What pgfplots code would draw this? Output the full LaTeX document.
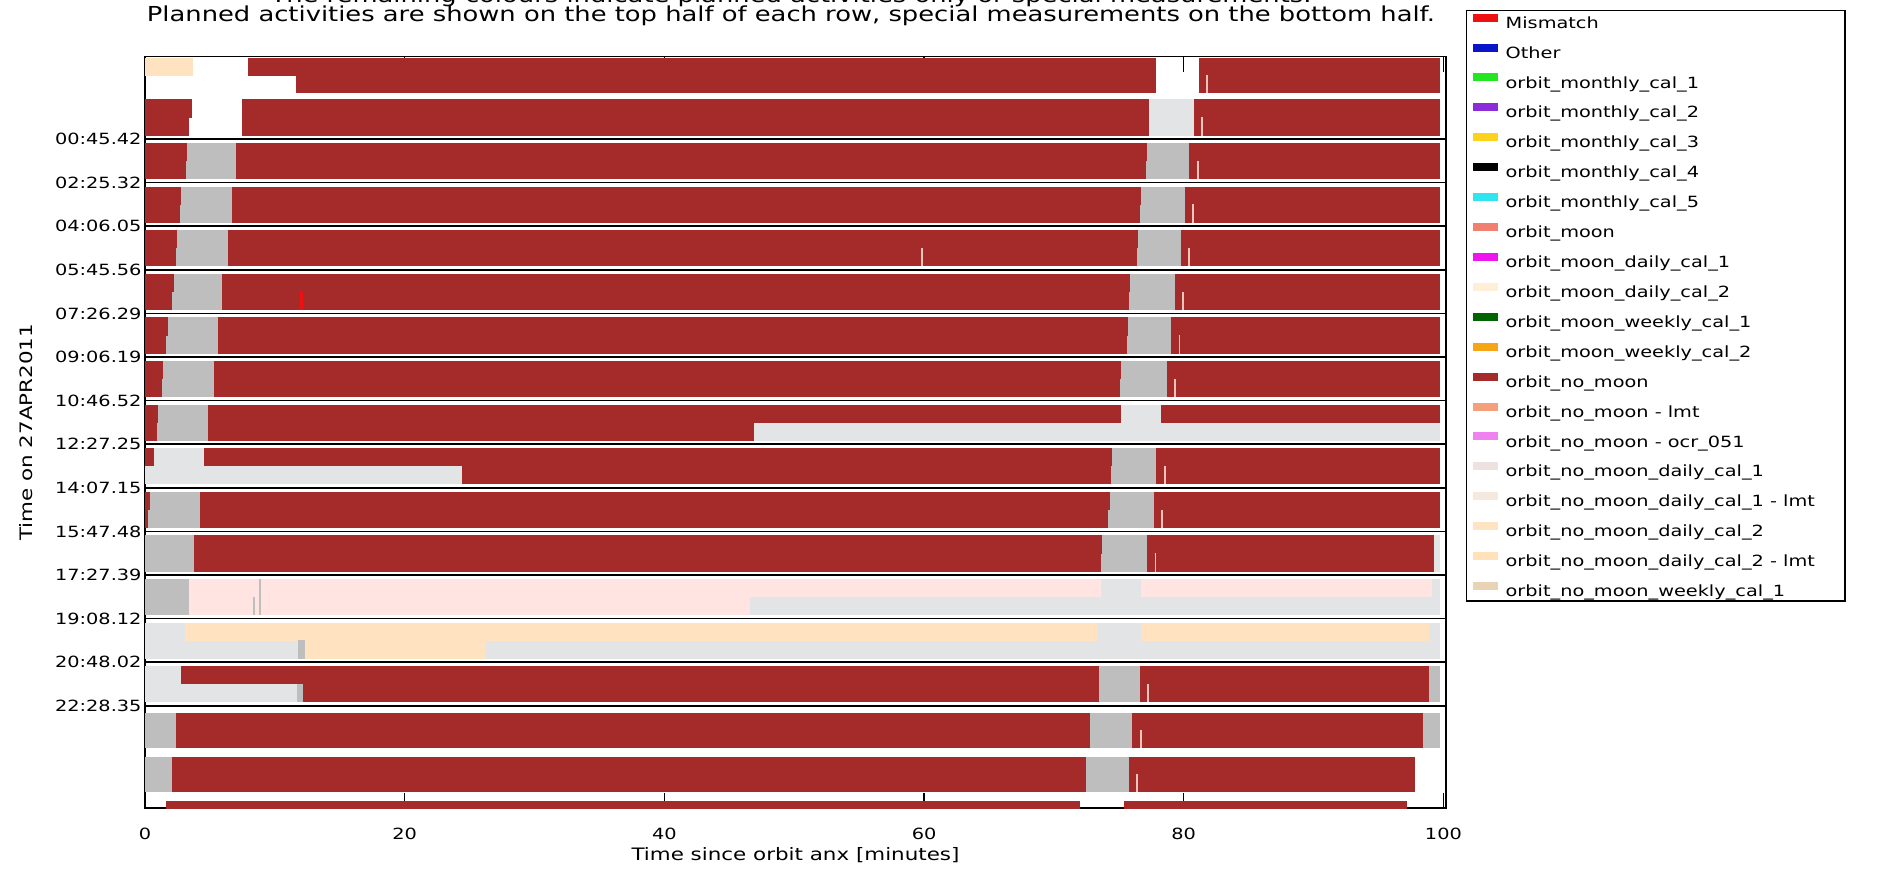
\documentclass[border=0pt]{standalone}
\usepackage{fontspec}
\setmainfont{DejaVu Sans}[FakeStretch=1.25]
\usepackage{pgfplots}
\pgfplotsset{compat=1.18}

% colours of the legend
\definecolor{cMis}{HTML}{EE1111}
\definecolor{cOther}{HTML}{0A14C8}
\definecolor{cMcA}{HTML}{22E622}
\definecolor{cMcB}{HTML}{8C2CD8}
\definecolor{cMcC}{HTML}{FCD21A}
\definecolor{cMcD}{HTML}{000000}
\definecolor{cMcE}{HTML}{30E4F0}
\definecolor{cMoon}{HTML}{F08070}
\definecolor{cMdA}{HTML}{EE14EE}
\definecolor{cMdB}{HTML}{FFEFD8}
\definecolor{cMwA}{HTML}{006400}
\definecolor{cMwB}{HTML}{F5A516}
\definecolor{cNoMoon}{HTML}{A52A2A}
\definecolor{cLmt}{HTML}{F4A07A}
\definecolor{cOcr}{HTML}{EE82EE}
\definecolor{cNdA}{HTML}{EEE2E0}
\definecolor{cNdAl}{HTML}{F5E8DC}
\definecolor{cNdB}{HTML}{FFE4C4}
\definecolor{cNdBl}{HTML}{FFE2BA}
\definecolor{cNwA}{HTML}{E8D4B4}
% colours seen in the rows
\definecolor{cGap}{HTML}{BEBEBE}
\definecolor{cLight}{HTML}{E2E4E5}
\definecolor{cPink}{HTML}{FFE4E1}
\definecolor{cPeach}{HTML}{FFE2BF}
\definecolor{cPale}{HTML}{F2C4BC}

\newcommand\titlefont{\fontsize{20.7}{24}\selectfont}
\newcommand\legfont{\fontsize{15.5}{18}\selectfont}
\newcommand\tickfont{\fontsize{15.5}{18}\selectfont}
\newcommand\labfont{\fontsize{17.2}{20}\selectfont}
\newcommand\ls{\rule[-4bp]{0pt}{15bp}}

\begin{document}
\begin{tikzpicture}
\path[use as bounding box] (0,0) rectangle (1883bp,-871bp);
\begin{axis}[
  at={(145bp,-808bp)}, anchor=south west,
  scale only axis, width=1301bp, height=751.3bp,
  xmin=0, xmax=100.2, ymin=-1.888, ymax=15.344, y dir=reverse,
  xtick={0,20,40,60,80,100},
  ytick={0,1,...,13},
  yticklabels={00:45.42,02:25.32,04:06.05,05:45.56,07:26.29,09:06.19,10:46.52,12:27.25,14:07.15,15:47.48,17:27.39,19:08.12,20:48.02,22:28.35},
  tick align=inside, major tick length=15bp,
  ymajorgrids, grid style={black, line width=1.6bp},
  axis line style={line width=1.3bp},
  every tick/.style={black, line width=1.3bp},
  /pgf/number format/assume math mode=true,
  tick label style={font=\tickfont},
  xticklabel style={anchor=base, yshift=-31bp},
  xlabel={Time since orbit anx [minutes]},
  xlabel style={font=\labfont, at={(axis description cs:0.5,-0.0705)}, anchor=base},
  ylabel={Time on 27APR2011},
  ylabel style={font=\labfont, at={(axis description cs:-0.0861,0.5)}, anchor=base},
  title={Planned activities are shown on the top half of each row, special measurements on the bottom half.},
  title style={font=\titlefont, at={(axis description cs:0.4965,1.0395)}, anchor=base},
  extra description/.code={
    \node[font=\titlefont, anchor=base] at (0.4965,1.0722)
      {The remaining colours indicate planned activities only or special measurements.};
  },
  unbounded coords=jump,
  every axis plot/.append style={line width=18.3bp, forget plot},
  sw/.style={legend image code/.code={\fill[#1, draw=none, line width=0pt] (0bp,1.5bp) rectangle (25bp,9.5bp);}},
  legend cell align=left,
  legend style={at={(axis description cs:1.0154,1.0622)}, anchor=north west,
    draw=black, line width=1.3bp, fill=white, font=\legfont,
    inner xsep=6bp, inner ysep=3bp, row sep=13.8bp, column sep=8bp,
    nodes={inner sep=0pt}},
]
% light grey
\addplot[cLight] coordinates {
(77.3,-0.70) (80.8,-0.70) (nan,nan) (77.3,-0.29) (80.8,-0.29) (nan,nan)
(75.2,6.30) (78.25,6.30) (nan,nan) (46.9,6.71) (99.75,6.71) (nan,nan)
(0.7,7.30) (4.55,7.30) (nan,nan) (0,7.71) (24.4,7.71) (nan,nan)
(99.3,9.30) (99.75,9.30) (nan,nan) (99.3,9.71) (99.75,9.71) (nan,nan)
(73.6,10.30) (76.7,10.30) (nan,nan) (99.1,10.30) (99.75,10.30) (nan,nan) (46.6,10.71) (99.75,10.71) (nan,nan)
(0,11.30) (3.1,11.30) (nan,nan) (73.3,11.30) (76.7,11.30) (nan,nan) (98.9,11.30) (99.75,11.30) (nan,nan)
(0,11.71) (11.8,11.71) (nan,nan) (26.3,11.71) (99.75,11.71) (nan,nan)
(0,12.30) (2.75,12.30) (nan,nan) (0,12.71) (11.7,12.71)
};
% pink
\addplot[cPink] coordinates {
(3.4,10.30) (73.6,10.30) (nan,nan) (76.7,10.30) (99.1,10.30) (nan,nan) (3.4,10.71) (46.6,10.71)
};
% peach
\addplot[cPeach] coordinates {
(0,-1.655) (3.7,-1.655) (nan,nan)
(3.1,11.30) (73.3,11.30) (nan,nan) (76.7,11.30) (98.9,11.30) (nan,nan) (12.3,11.71) (26.3,11.71)
};
% grey
\addplot[cGap] coordinates {
(3.25,0.30) (7.0,0.30) (nan,nan) (77.2,0.30) (80.4,0.30) (nan,nan) (3.15,0.71) (7.0,0.71) (nan,nan) (77.1,0.71) (80.4,0.71) (nan,nan)
(2.8,1.30) (6.7,1.30) (nan,nan) (76.7,1.30) (80.1,1.30) (nan,nan) (2.7,1.71) (6.7,1.71) (nan,nan) (76.6,1.71) (80.1,1.71) (nan,nan)
(2.5,2.30) (6.4,2.30) (nan,nan) (76.5,2.30) (79.8,2.30) (nan,nan) (2.4,2.71) (6.4,2.71) (nan,nan) (76.4,2.71) (79.8,2.71) (nan,nan)
(2.2,3.30) (5.9,3.30) (nan,nan) (75.9,3.30) (79.35,3.30) (nan,nan) (2.05,3.71) (5.9,3.71) (nan,nan) (75.8,3.71) (79.35,3.71) (nan,nan)
(1.75,4.30) (5.6,4.30) (nan,nan) (75.7,4.30) (79.0,4.30) (nan,nan) (1.6,4.71) (5.6,4.71) (nan,nan) (75.6,4.71) (79.0,4.71) (nan,nan)
(1.4,5.30) (5.3,5.30) (nan,nan) (75.2,5.30) (78.7,5.30) (nan,nan) (1.3,5.71) (5.3,5.71) (nan,nan) (75.1,5.71) (78.7,5.71) (nan,nan)
(0.98,6.30) (4.85,6.30) (nan,nan) (0.9,6.71) (4.85,6.71) (nan,nan)
(74.5,7.30) (77.9,7.30) (nan,nan) (74.4,7.71) (77.9,7.71) (nan,nan)
(0.4,8.30) (4.25,8.30) (nan,nan) (74.3,8.30) (77.7,8.30) (nan,nan) (0.25,8.71) (4.25,8.71) (nan,nan) (74.2,8.71) (77.7,8.71) (nan,nan)
(0,9.30) (3.8,9.30) (nan,nan) (73.7,9.30) (77.2,9.30) (nan,nan) (0,9.71) (3.8,9.71) (nan,nan) (73.6,9.71) (77.2,9.71) (nan,nan)
(0,10.30) (3.4,10.30) (nan,nan) (8.75,10.30) (8.9,10.30) (nan,nan) (0,10.71) (3.4,10.71) (nan,nan) (8.35,10.71) (8.5,10.71) (nan,nan) (8.75,10.71) (8.9,10.71) (nan,nan)
(11.8,11.71) (12.3,11.71) (nan,nan)
(73.5,12.30) (76.6,12.30) (nan,nan) (98.9,12.30) (99.75,12.30) (nan,nan)
(11.7,12.71) (12.2,12.71) (nan,nan) (73.5,12.71) (76.6,12.71) (nan,nan) (98.9,12.71) (99.75,12.71) (nan,nan)
(0,13.37) (2.4,13.37) (nan,nan) (72.8,13.37) (76.0,13.37) (nan,nan) (98.4,13.37) (99.75,13.37) (nan,nan)
(0,13.76) (2.4,13.76) (nan,nan) (72.8,13.76) (76.0,13.76) (nan,nan) (98.4,13.76) (99.75,13.76) (nan,nan)
(0,14.38) (2.05,14.38) (nan,nan) (72.5,14.38) (75.8,14.38) (nan,nan)
(0,14.77) (2.05,14.77) (nan,nan) (72.5,14.77) (75.8,14.77)
};
% orbit_no_moon
\addplot[cNoMoon] coordinates {
(7.9,-1.655) (77.9,-1.655) (nan,nan) (81.2,-1.655) (99.75,-1.655) (nan,nan)
(11.6,-1.265) (77.9,-1.265) (nan,nan) (81.2,-1.265) (99.75,-1.265) (nan,nan)
(0,-0.70) (3.6,-0.70) (nan,nan) (7.5,-0.70) (77.3,-0.70) (nan,nan) (80.8,-0.70) (99.75,-0.70) (nan,nan)
(0,-0.29) (3.4,-0.29) (nan,nan) (7.5,-0.29) (77.3,-0.29) (nan,nan) (80.8,-0.29) (99.75,-0.29) (nan,nan)
(0,0.30) (3.25,0.30) (nan,nan) (7.0,0.30) (77.2,0.30) (nan,nan) (80.4,0.30) (99.75,0.30) (nan,nan)
(0,0.71) (3.15,0.71) (nan,nan) (7.0,0.71) (77.1,0.71) (nan,nan) (80.4,0.71) (99.75,0.71) (nan,nan)
(0,1.30) (2.8,1.30) (nan,nan) (6.7,1.30) (76.7,1.30) (nan,nan) (80.1,1.30) (99.75,1.30) (nan,nan)
(0,1.71) (2.7,1.71) (nan,nan) (6.7,1.71) (76.6,1.71) (nan,nan) (80.1,1.71) (99.75,1.71) (nan,nan)
(0,2.30) (2.5,2.30) (nan,nan) (6.4,2.30) (76.5,2.30) (nan,nan) (79.8,2.30) (99.75,2.30) (nan,nan)
(0,2.71) (2.4,2.71) (nan,nan) (6.4,2.71) (76.4,2.71) (nan,nan) (79.8,2.71) (99.75,2.71) (nan,nan)
(0,3.30) (2.2,3.30) (nan,nan) (5.9,3.30) (75.9,3.30) (nan,nan) (79.35,3.30) (99.75,3.30) (nan,nan)
(0,3.71) (2.05,3.71) (nan,nan) (5.9,3.71) (75.8,3.71) (nan,nan) (79.35,3.71) (99.75,3.71) (nan,nan)
(0,4.30) (1.75,4.30) (nan,nan) (5.6,4.30) (75.7,4.30) (nan,nan) (79.0,4.30) (99.75,4.30) (nan,nan)
(0,4.71) (1.6,4.71) (nan,nan) (5.6,4.71) (75.6,4.71) (nan,nan) (79.0,4.71) (99.75,4.71) (nan,nan)
(0,5.30) (1.4,5.30) (nan,nan) (5.3,5.30) (75.2,5.30) (nan,nan) (78.7,5.30) (99.75,5.30) (nan,nan)
(0,5.71) (1.3,5.71) (nan,nan) (5.3,5.71) (75.1,5.71) (nan,nan) (78.7,5.71) (99.75,5.71) (nan,nan)
(0,6.30) (0.98,6.30) (nan,nan) (4.85,6.30) (75.2,6.30) (nan,nan) (78.25,6.30) (99.75,6.30) (nan,nan)
(0,6.71) (0.9,6.71) (nan,nan) (4.85,6.71) (46.9,6.71) (nan,nan)
(0,7.30) (0.7,7.30) (nan,nan) (4.55,7.30) (74.5,7.30) (nan,nan) (77.9,7.30) (99.75,7.30) (nan,nan)
(24.4,7.71) (74.4,7.71) (nan,nan) (77.9,7.71) (99.75,7.71) (nan,nan)
(0,8.30) (0.4,8.30) (nan,nan) (4.25,8.30) (74.3,8.30) (nan,nan) (77.7,8.30) (99.75,8.30) (nan,nan)
(0,8.71) (0.25,8.71) (nan,nan) (4.25,8.71) (74.2,8.71) (nan,nan) (77.7,8.71) (99.75,8.71) (nan,nan)
(3.8,9.30) (73.7,9.30) (nan,nan) (77.2,9.30) (99.3,9.30) (nan,nan)
(3.8,9.71) (73.6,9.71) (nan,nan) (77.2,9.71) (99.3,9.71) (nan,nan)
(2.75,12.30) (73.5,12.30) (nan,nan) (76.6,12.30) (98.9,12.30) (nan,nan)
(12.2,12.71) (73.5,12.71) (nan,nan) (76.6,12.71) (98.9,12.71) (nan,nan)
(2.4,13.37) (72.8,13.37) (nan,nan) (76.0,13.37) (98.4,13.37) (nan,nan)
(2.4,13.76) (72.8,13.76) (nan,nan) (76.0,13.76) (98.4,13.76) (nan,nan)
(2.05,14.38) (72.5,14.38) (nan,nan) (75.8,14.38) (97.8,14.38) (nan,nan)
(2.05,14.77) (72.5,14.77) (nan,nan) (75.8,14.77) (97.8,14.77) (nan,nan)
(1.65,15.39) (72.0,15.39) (nan,nan) (75.4,15.39) (97.2,15.39)
};
% thin pale marks in the bottom halves
\addplot[cPale] coordinates {
(81.75,-1.265) (81.9,-1.265) (nan,nan) (81.35,-0.29) (81.5,-0.29) (nan,nan)
(81.0,0.71) (81.15,0.71) (nan,nan) (80.65,1.71) (80.8,1.71) (nan,nan)
(80.3,2.71) (80.45,2.71) (nan,nan) (59.75,2.71) (59.9,2.71) (nan,nan)
(79.85,3.71) (80.0,3.71) (nan,nan) (79.6,4.71) (79.75,4.71) (nan,nan)
(79.25,5.71) (79.4,5.71) (nan,nan) (78.5,7.71) (78.65,7.71) (nan,nan)
(78.25,8.71) (78.4,8.71) (nan,nan) (77.75,9.71) (77.9,9.71) (nan,nan)
(77.15,12.71) (77.3,12.71) (nan,nan) (76.6,13.76) (76.75,13.76) (nan,nan)
(76.3,14.77) (76.45,14.77)
};
% mismatch
\addplot[cMis] coordinates {(11.9,3.71) (12.2,3.71)};

\addlegendimage{sw=cMis}\addlegendentry{\ls Mismatch}
\addlegendimage{sw=cOther}\addlegendentry{\ls Other}
\addlegendimage{sw=cMcA}\addlegendentry{\ls orbit\_monthly\_cal\_1}
\addlegendimage{sw=cMcB}\addlegendentry{\ls orbit\_monthly\_cal\_2}
\addlegendimage{sw=cMcC}\addlegendentry{\ls orbit\_monthly\_cal\_3}
\addlegendimage{sw=cMcD}\addlegendentry{\ls orbit\_monthly\_cal\_4}
\addlegendimage{sw=cMcE}\addlegendentry{\ls orbit\_monthly\_cal\_5}
\addlegendimage{sw=cMoon}\addlegendentry{\ls orbit\_moon}
\addlegendimage{sw=cMdA}\addlegendentry{\ls orbit\_moon\_daily\_cal\_1}
\addlegendimage{sw=cMdB}\addlegendentry{\ls orbit\_moon\_daily\_cal\_2}
\addlegendimage{sw=cMwA}\addlegendentry{\ls orbit\_moon\_weekly\_cal\_1}
\addlegendimage{sw=cMwB}\addlegendentry{\ls orbit\_moon\_weekly\_cal\_2}
\addlegendimage{sw=cNoMoon}\addlegendentry{\ls orbit\_no\_moon}
\addlegendimage{sw=cLmt}\addlegendentry{\ls orbit\_no\_moon - lmt}
\addlegendimage{sw=cOcr}\addlegendentry{\ls orbit\_no\_moon - ocr\_051}
\addlegendimage{sw=cNdA}\addlegendentry{\ls orbit\_no\_moon\_daily\_cal\_1}
\addlegendimage{sw=cNdAl}\addlegendentry{\ls orbit\_no\_moon\_daily\_cal\_1 - lmt\rule{24bp}{0pt}}
\addlegendimage{sw=cNdB}\addlegendentry{\ls orbit\_no\_moon\_daily\_cal\_2}
\addlegendimage{sw=cNdBl}\addlegendentry{\ls orbit\_no\_moon\_daily\_cal\_2 - lmt}
\addlegendimage{sw=cNwA}\addlegendentry{\rule[-18bp]{0pt}{29bp}orbit\_no\_moon\_weekly\_cal\_1}
\end{axis}
\end{tikzpicture}
\end{document}
